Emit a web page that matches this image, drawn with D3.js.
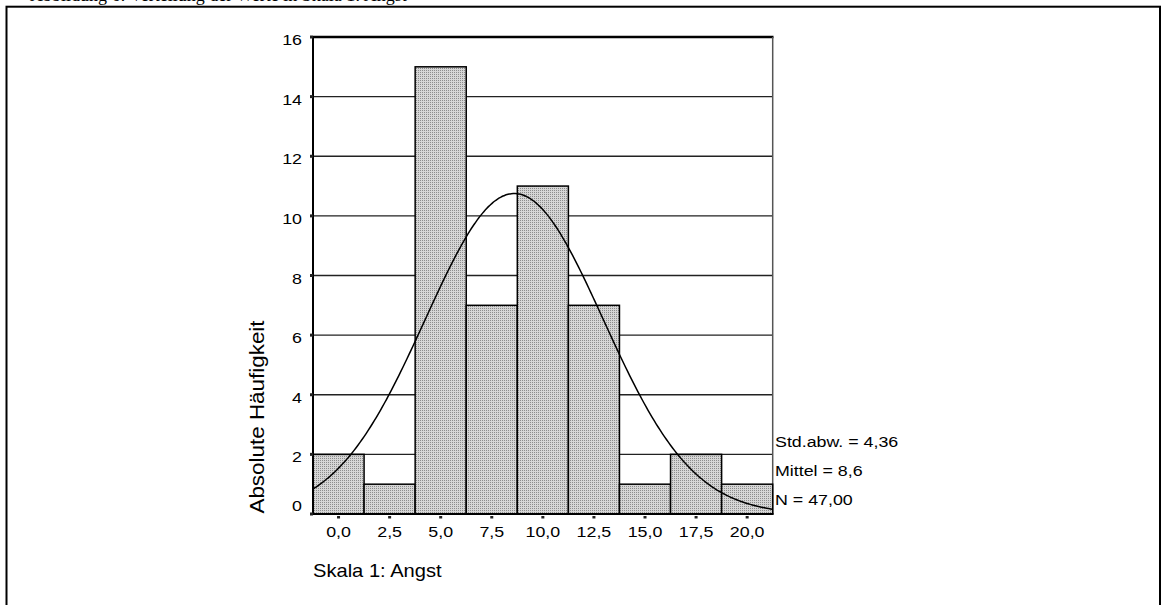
<!DOCTYPE html>
<html>
<head>
<meta charset="utf-8">
<script src="https://cdn.jsdelivr.net/npm/d3@7"></script>
<style>
  html, body { margin: 0; padding: 0; background: #fff; }
  svg { display: block; }
</style>
</head>
<body>
<svg id="chart" width="1161" height="605"></svg>
<script>
// Histogram of scale 1 ("Angst") with fitted normal curve
const binCenters = [0, 2.5, 5, 7.5, 10, 12.5, 15, 17.5, 20];
const counts     = [2, 1, 15, 7, 11, 7, 1, 2, 1];
const binWidth   = 2.5;
const yTicks     = [0, 2, 4, 6, 8, 10, 12, 14, 16];
const xTickLabels = ["0,0", "2,5", "5,0", "7,5", "10,0", "12,5", "15,0", "17,5", "20,0"];
const statLabels = ["Std.abw. = 4,36", "Mittel = 8,6", "N = 47,00"];
const stdDev = 4.36, mean = 8.6, nTotal = 47;

const svg = d3.select("#chart");
const FONT = "Arial, 'Liberation Sans', Helvetica, sans-serif";
const SX = 1.15;

// page frame and the caption line running above it
svg.append("text")
  .attr("x", 30).attr("y", 1)
  .attr("font-family", "'Liberation Serif', 'Times New Roman', serif")
  .attr("font-size", 18)
  .text("Abbildung 6: Verteilung der Werte in Skala 1: Angst");
svg.append("rect")
  .attr("x", 6.5).attr("y", 6.7)
  .attr("width", 1153.5).attr("height", 620)
  .attr("fill", "none").attr("stroke", "#000").attr("stroke-width", 2);

const x = d3.scaleLinear()
  .domain([binCenters[0] - binWidth / 2, binCenters[binCenters.length - 1] + binWidth / 2])
  .range([313, 772.7]);
const y = d3.scaleLinear().domain([0, 16]).range([514, 37]);

// fine dotted fill for bars
const defs = svg.append("defs");
const pat = defs.append("pattern")
  .attr("id", "dots").attr("patternUnits", "userSpaceOnUse")
  .attr("width", 2).attr("height", 2);
pat.append("rect").attr("width", 2).attr("height", 2).attr("fill", "#d6d6d6");
pat.append("rect").attr("x", 0).attr("y", 0).attr("width", 1).attr("height", 1).attr("fill", "#8c8c8c");

// horizontal grid lines
svg.append("g").selectAll("line")
  .data(yTicks.filter(d => d > 0 && d < 16))
  .join("line")
  .attr("x1", x.range()[0]).attr("x2", x.range()[1])
  .attr("y1", d => y(d)).attr("y2", d => y(d))
  .attr("stroke", "#222").attr("stroke-width", 1.3);

// plot frame: top and right
svg.append("line")
  .attr("x1", x.range()[0]).attr("x2", x.range()[1] + 0.8)
  .attr("y1", y(16)).attr("y2", y(16))
  .attr("stroke", "#000").attr("stroke-width", 2.3);
svg.append("line")
  .attr("x1", x.range()[1]).attr("x2", x.range()[1])
  .attr("y1", y(16)).attr("y2", y(0))
  .attr("stroke", "#555").attr("stroke-width", 1.5);

// bars
svg.append("g").selectAll("rect")
  .data(binCenters.map((c, i) => ({ c, v: counts[i] })))
  .join("rect")
  .attr("x", d => x(d.c - binWidth / 2))
  .attr("width", d => x(d.c + binWidth / 2) - x(d.c - binWidth / 2))
  .attr("y", d => y(d.v))
  .attr("height", d => y(0) - y(d.v))
  .attr("fill", "url(#dots)")
  .attr("stroke", "#000").attr("stroke-width", 1.5);

// normal curve from the stated mean, std. deviation and N
const scale = nTotal * binWidth / (stdDev * Math.sqrt(2 * Math.PI));
const curveXs = d3.range(x.domain()[0], x.domain()[1] + 0.001, 0.1);
const line = d3.line()
  .x(d => x(d))
  .y(d => y(scale * Math.exp(-0.5 * Math.pow((d - mean) / stdDev, 2))))
  .curve(d3.curveBasis);
svg.append("path")
  .datum(curveXs)
  .attr("d", line)
  .attr("fill", "none").attr("stroke", "#000").attr("stroke-width", 1.5);

// axes
svg.append("line")
  .attr("x1", x.range()[0]).attr("x2", x.range()[0])
  .attr("y1", y(16) - 1).attr("y2", y(0) + 1)
  .attr("stroke", "#000").attr("stroke-width", 2);
svg.append("line")
  .attr("x1", x.range()[0]).attr("x2", x.range()[1] + 0.8)
  .attr("y1", y(0)).attr("y2", y(0))
  .attr("stroke", "#000").attr("stroke-width", 2);

// tick marks
svg.append("g").selectAll("rect")
  .data(yTicks).join("rect")
  .attr("x", x.range()[0] - 3).attr("y", d => y(d) - 1.5)
  .attr("width", 3).attr("height", 3).attr("fill", "#222");
svg.append("g").selectAll("rect")
  .data(binCenters).join("rect")
  .attr("x", d => x(d) - 1.5).attr("y", y(0) + 2)
  .attr("width", 3).attr("height", 2.5).attr("fill", "#222");

// helper for horizontally widened labels
function label(px, py, txt, size, anchor, rotate) {
  const g = svg.append("g")
    .attr("transform", `translate(${px},${py})` + (rotate ? ` rotate(${rotate})` : "") + ` scale(${SX},1)`);
  g.append("text")
    .attr("font-family", FONT).attr("font-size", size)
    .attr("text-anchor", anchor).attr("fill", "#000")
    .text(txt);
  return g;
}

// y tick labels
yTicks.forEach(t => {
  const py = t === 0 ? y(t) - 3 : y(t) + 8;
  label(302, py, String(t), 15.5, "end");
});

// x tick labels
binCenters.forEach((c, i) => label(x(c), 536.5, xTickLabels[i], 15.5, "middle"));

// statistics block
statLabels.forEach((s, i) => label(775, 446.7 + i * 29.2, s, 15.5, "start"));

// axis titles
label(264, 417, "Absolute Häufigkeit", 19.5, "middle", -90);
label(313, 577, "Skala 1: Angst", 17.5, "start");
</script>
</body>
</html>
